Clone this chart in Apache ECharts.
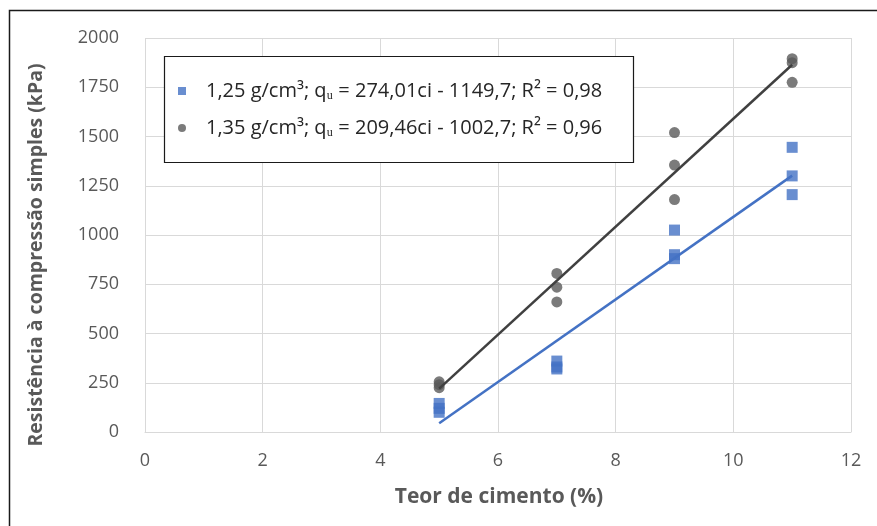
<!DOCTYPE html>
<html>
<head>
<meta charset="utf-8">
<script src="https://cdn.jsdelivr.net/npm/echarts@6/dist/echarts.min.js"></script>
<style>
html,body{margin:0;padding:0;background:#fff;}
#chart{width:877px;height:526px;}
</style>
</head>
<body>
<div id="chart"></div>
<script>
// ---- data ----
const cimento = [5, 5, 5, 7, 7, 7, 9, 9, 9, 11, 11, 11];
const qu125 = [145, 120, 100, 360, 330, 320, 1025, 900, 880, 1445, 1300, 1205];
const qu135 = [255, 240, 225, 805, 735, 660, 1520, 1355, 1180, 1895, 1875, 1775];
const trendX = [5, 11];
const trendBlue = [44.6, 1301.4];
const trendGray = [220.4, 1864.4];
const name125 = '1,25 g/cm³; qᵤ = 274,01ci - 1149,7; R² = 0,98';
const name135 = '1,35 g/cm³; qᵤ = 209,46ci - 1002,7; R² = 0,96';
const xTitle = 'Teor de cimento (%)';
const yTitle = 'Resistência à compressão simples (kPa)';

const pts = (xs, ys) => xs.map((x, i) => [x, ys[i]]);

const blue = '#4472C4';
const gray = '#5a5a5a';
const lineGray = '#404040';
const txt = '#595959';

const chart = echarts.init(document.getElementById('chart'), null, {renderer: 'canvas'});
chart.setOption({
  animation: false,
  backgroundColor: '#ffffff',
  grid: {left: 145, right: 26, top: 38, bottom: 94},
  xAxis: {
    type: 'value', min: 0, max: 12, interval: 2,
    axisLine: {show: true, lineStyle: {color: '#d9d9d9', width: 1}},
    axisTick: {show: false},
    axisLabel: {color: txt, fontFamily: 'Open Sans', fontSize: 18, margin: 20},
    splitLine: {show: true, lineStyle: {color: '#d9d9d9', width: 1}}
  },
  yAxis: {
    type: 'value', min: 0, max: 2000, interval: 250,
    axisLine: {show: false},
    axisTick: {show: false},
    axisLabel: {color: txt, fontFamily: 'Open Sans', fontSize: 18, margin: 26,
                formatter: v => String(v)},
    splitLine: {show: true, lineStyle: {color: '#d9d9d9', width: 1}}
  },
  legend: {
    data: [
      {name: name125, icon: 'rect'},
      {name: name135, icon: 'circle'}
    ],
    orient: 'vertical',
    left: 173, top: 76,
    itemWidth: 8, itemHeight: 8,
    itemGap: 17,
    z: 10,
    textStyle: {color: '#262626', fontFamily: 'Open Sans', fontSize: 20, padding: [0, 0, 0, 15]}
  },
  graphic: [
    {type: 'rect', z: 5, shape: {x: 164.5, y: 56.5, width: 469, height: 106},
     style: {fill: '#ffffff', stroke: '#1a1a1a', lineWidth: 1.2}},
    {type: 'polyline', z: 5, shape: {points: [[9.5, 530], [9.5, 10.5], [880, 10.5]]},
     style: {fill: null, stroke: '#1a1a1a', lineWidth: 1.5}},
    {type: 'text', z: 5, x: 499, y: 497,
     style: {text: xTitle, fill: txt, font: 'bold 21px "Open Sans"', textAlign: 'center', textVerticalAlign: 'middle'}},
    {type: 'text', z: 5, x: 36, y: 255, rotation: Math.PI / 2,
     style: {text: yTitle, fill: txt, font: 'bold 19.5px "Open Sans"', textAlign: 'center', textVerticalAlign: 'middle'}}
  ],
  series: [
    {name: name125, type: 'scatter', symbol: 'rect', symbolSize: 11,
     itemStyle: {color: blue}, data: pts(cimento, qu125), z: 3},
    {name: name135, type: 'scatter', symbol: 'circle', symbolSize: 11,
     itemStyle: {color: gray}, data: pts(cimento, qu135), z: 3},
    {name: 'trend-blue', type: 'line', showSymbol: false, symbol: 'none',
     lineStyle: {color: blue, width: 2.5}, data: pts(trendX, trendBlue), z: 4},
    {name: 'trend-gray', type: 'line', showSymbol: false, symbol: 'none',
     lineStyle: {color: lineGray, width: 2.5}, data: pts(trendX, trendGray), z: 4}
  ]
});
</script>
</body>
</html>
